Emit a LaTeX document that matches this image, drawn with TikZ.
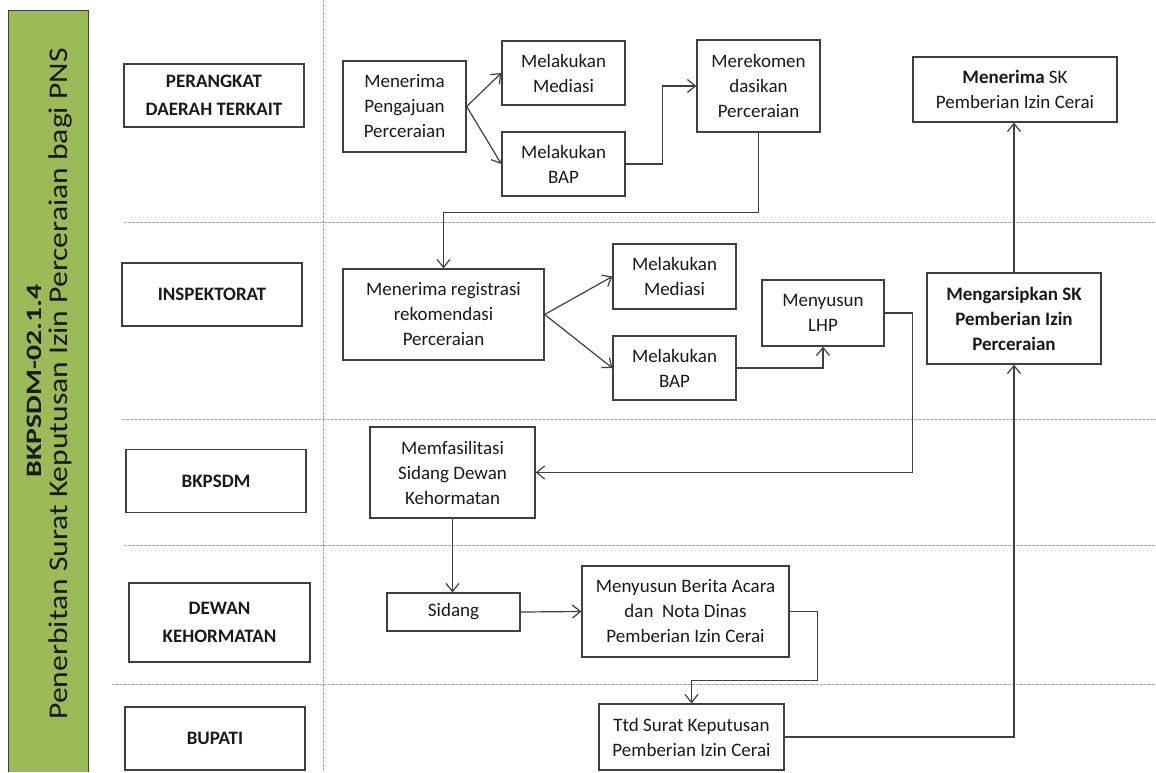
\documentclass[tikz,border=0pt]{standalone}
\usepackage{fontspec}
\setmainfont{Carlito}
\usepackage{graphicx}
\usetikzlibrary{arrows.meta}
\definecolor{barfill}{HTML}{9BBB59}
\definecolor{linec}{HTML}{3F3F3F}
\definecolor{dashc}{HTML}{ABABAB}
\definecolor{txtc}{HTML}{1A1A1A}
\begin{document}
\begin{tikzpicture}[x=1pt,y=-1pt,
  proc/.style={draw=linec, line width=1.3pt, align=center, inner sep=0pt, text=txtc,
    font=\fontsize{19}{25}\selectfont},
  lane/.style={draw=linec, line width=1.3pt, align=center, inner sep=0pt, text=txtc,
    font=\fontsize{19}{28}\selectfont\bfseries, minimum width=180pt, minimum height=63pt},
  conn/.style={draw=linec, line width=1.2pt},
  arr/.style={conn, -{Straight Barb[length=8pt,width=13pt]}},
  sep/.style={draw=dashc, line width=0.9pt, dash pattern=on 2.5pt off 1.5pt}]
\useasboundingbox (0,0) rectangle (1156,772);
\fill[white] (0,0) rectangle (1156,772);
% green title bar
\fill[barfill] (8,10) rectangle (88,772);
\draw[linec, line width=1pt] (8,772) -- (8,10) -- (88,10) -- (88,772);
\node[rotate=90, anchor=base, inner sep=0pt, text=txtc, font=\fontsize{22}{26}\selectfont\bfseries] (ttl1) at (41,381) {\scalebox{1.35}[1]{BKPSDM-02.1.4}};
\node[rotate=90, anchor=base, inner sep=0pt, text=txtc, font=\fontsize{27}{30}\selectfont] (ttl2) at (67,384) {\scalebox{1.17}[1]{Penerbitan Surat Keputusan Izin Perceraian bagi PNS}};
% separators
\draw[sep] (323,0) -- (323,772);
\draw[sep] (124,222) -- (1156,222);
\draw[sep] (122,419) -- (1156,419);
\draw[sep] (124,545) -- (1156,545);
\draw[sep] (112,684) -- (1156,684);
% lane labels
\node[lane] (l1) at (214,95.5) {PERANGKAT\\DAERAH TERKAIT};
\node[lane] (l2) at (212,294.5) {INSPEKTORAT};
\node[lane] (l3) at (216,481) {BKPSDM};
\node[lane, minimum width=181pt, minimum height=79pt] (l4) at (219.5,622.5) {DEWAN\\KEHORMATAN};
\node[lane] (l5) at (215,738.5) {BUPATI};
% process boxes
\node[proc, minimum width=123pt, minimum height=91pt] (pdterima) at (404.5,106.5) {Menerima\\Pengajuan\\Perceraian};
\node[proc, minimum width=123pt, minimum height=64pt] (pdmed) at (563.5,73) {Melakukan\\Mediasi};
\node[proc, minimum width=123pt, minimum height=64pt] (pdbap) at (563.5,164) {Melakukan\\BAP};
\node[proc, minimum width=123pt, minimum height=92pt] (pdrekom) at (758.5,86) {Merekomen\\dasikan\\Perceraian};
\node[proc, minimum width=201pt, minimum height=91pt] (interima) at (443.5,314.5) {Menerima registrasi\\rekomendasi\\Perceraian};
\node[proc, minimum width=123pt, minimum height=65pt] (inmed) at (674.5,276.5) {Melakukan\\Mediasi};
\node[proc, minimum width=123pt, minimum height=64pt] (inbap) at (674.5,368) {Melakukan\\BAP};
\node[proc, minimum width=122pt, minimum height=66pt] (inlhp) at (823,313) {Menyusun\\LHP};
\node[proc, minimum width=204pt, minimum height=65pt] (skterima) at (1015,89.5) {\textbf{Menerima} SK\\Pemberian Izin Cerai};
\node[proc, minimum width=174pt, minimum height=91pt, font=\fontsize{19}{25}\selectfont\bfseries] (skarsip) at (1014,318.5) {Mengarsipkan SK\\Pemberian Izin\\Perceraian};
\node[proc, minimum width=165pt, minimum height=91pt] (bkfasil) at (452.5,472.5) {Memfasilitasi\\Sidang Dewan\\Kehormatan};
\node[proc, minimum width=133pt, minimum height=38pt] (dksidang) at (453.5,612) {Sidang};
\node[proc, minimum width=207pt, minimum height=91pt] (dkberita) at (685.5,611.5) {Menyusun Berita Acara\\dan\ \ Nota Dinas\\Pemberian Izin Cerai};
\node[proc, minimum width=185pt, minimum height=66pt] (bpttd) at (691.5,737) {Ttd Surat Keputusan\\Pemberian Izin Cerai};
% connectors
\draw[arr] (pdterima.east) -- (pdmed.west);
\draw[arr] (pdterima.east) -- (pdbap.west);
\draw[arr] (pdbap.east) -- ++(37,0) |- (pdrekom.west);
\draw[arr] (pdrekom.south) -- ++(0,80) -| (interima.north);
\draw[arr] (interima.east) -- (inmed.west);
\draw[arr] (interima.east) -- (inbap.west);
\draw[arr] (inbap.east) -| (inlhp.south);
\draw[arr] (inlhp.east) -- ++(28,0) |- (bkfasil.east);
\draw[arr] (bkfasil.south) -- (bkfasil.south |- dksidang.north);
\draw[arr] (dksidang.east) -- (dkberita.west);
\draw[arr] (dkberita.east) -- ++(28,0) -- ++(0,69) -| (bpttd.north);
\draw[arr] (bpttd.east) -| (skarsip.south);
\draw[arr] (skarsip.north) -- (skarsip.north |- skterima.south);
\end{tikzpicture}
\end{document}
